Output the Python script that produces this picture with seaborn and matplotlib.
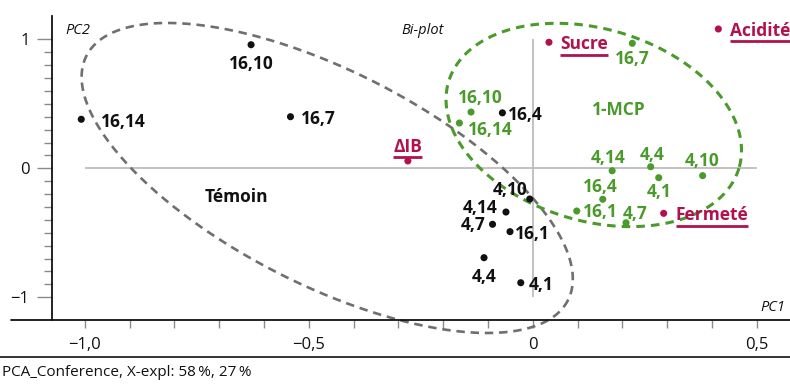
import numpy as np
import pandas as pd
import matplotlib
matplotlib.use("Agg")
import matplotlib.pyplot as plt
import seaborn as sns
from matplotlib.lines import Line2D

# ---------------- data ----------------
temoin_labels = ["16,10", "16,14", "16,7", "16,4", "4,10", "4,14", "4,7", "16,1", "4,4", "4,1"]
temoin_pc1 = [-0.629, -1.008, -0.541, -0.068, -0.007, -0.060, -0.090, -0.051, -0.109, -0.027]
temoin_pc2 = [0.958, 0.380, 0.400, 0.430, -0.238, -0.339, -0.434, -0.491, -0.693, -0.887]

mcp_labels = ["16,7", "16,10", "16,14", "4,14", "4,4", "4,1", "4,10", "16,4", "16,1", "4,7"]
mcp_pc1 = [0.222, -0.138, -0.164, 0.177, 0.263, 0.281, 0.379, 0.156, 0.098, 0.208]
mcp_pc2 = [0.969, 0.436, 0.351, -0.019, 0.012, -0.073, -0.057, -0.240, -0.331, -0.422]

var_labels = ["Sucre", "Acidité", "\u0394IB", "Fermeté"]
var_pc1 = [0.036, 0.414, -0.279, 0.292]
var_pc2 = [0.977, 1.080, 0.057, -0.349]

group_names = ["Témoin", "1-MCP", "Variables"]
x_major = [-1.0, -0.5, 0.0, 0.5]
x_major_labels = ["\u22121,0", "\u22120,5", "0", "0,5"]
y_major = [-1, 0, 1]
y_major_labels = ["\u22121", "0", "1"]
caption = "PCA_Conference, X-expl: 58\u2009%, 27\u2009%"

# ---------------- style ----------------
BLACK = "#111111"
GREEN = "#4a9a2c"
CRIMSON = "#b0124f"
GREY_ELL = "#6f6f6f"
GREY_ZERO = "#b8b8b8"
TICK_GREY = "#8a8a8a"

sns.set_theme(style="white")
plt.rcParams["font.family"] = ["Open Sans", "DejaVu Sans"]

DPI = 100
fig = plt.figure(figsize=(7.9, 3.85), dpi=DPI)
ax = fig.add_axes([51.7 / 790, (385 - 320) / 385, 1 - 51.7 / 790, (320 - 15.7) / 385])

df = pd.concat([
    pd.DataFrame({"label": temoin_labels, "PC1": temoin_pc1, "PC2": temoin_pc2, "group": group_names[0]}),
    pd.DataFrame({"label": mcp_labels, "PC1": mcp_pc1, "PC2": mcp_pc2, "group": group_names[1]}),
    pd.DataFrame({"label": var_labels, "PC1": var_pc1, "PC2": var_pc2, "group": group_names[2]}),
], ignore_index=True)
palette = {group_names[0]: BLACK, group_names[1]: GREEN, group_names[2]: CRIMSON}

sns.scatterplot(data=df, x="PC1", y="PC2", hue="group", palette=palette, s=26,
                edgecolor="none", legend=False, ax=ax, zorder=4)

ax.set_xlim(-1.074, 0.574)
ax.set_ylim(-1.176, 1.183)

# zero reference lines
ax.hlines(0, -1.0, 0.5, color=GREY_ZERO, lw=1.2, zorder=1)
ax.vlines(0, -1.0, 1.0, color=GREY_ZERO, lw=1.2, zorder=1)

# ticks
ax.set_xticks(x_major)
ax.set_xticklabels(x_major_labels)
ax.set_xticks(np.round(np.arange(-1.0, 0.51, 0.1), 2), minor=True)
ax.set_yticks(y_major)
ax.set_yticklabels(y_major_labels)
ax.set_yticks(np.round(np.arange(-1.0, 1.01, 0.1), 2), minor=True)
ax.tick_params(axis="x", which="both", direction="out", length=6, width=1.0, color=TICK_GREY,
               labelsize=12, pad=6, labelcolor=BLACK, bottom=True)
ax.tick_params(axis="y", which="major", direction="out", length=11, width=1.0, color=TICK_GREY,
               labelsize=12, pad=5, labelcolor=BLACK, left=True)
ax.tick_params(axis="y", which="minor", direction="out", length=6, width=1.0, color=TICK_GREY, left=True)
ax.set_xlabel("")
ax.set_ylabel("")
for s in ["top", "right", "bottom"]:
    ax.spines[s].set_visible(False)
ax.spines["left"].set_color(BLACK)
ax.spines["left"].set_linewidth(1.3)
ax.grid(False)
ax.set_facecolor("none")

# x axis line extending left beyond y axis, and bottom rule
fig.add_artist(Line2D([11 / 790, 1.0], [(385 - 320) / 385] * 2, color=BLACK, lw=1.3,
                      transform=fig.transFigure))
fig.add_artist(Line2D([0, 1.0], [(385 - 357) / 385] * 2, color=BLACK, lw=1.2,
                      transform=fig.transFigure))
fig.text(2 / 790, (385 - 372) / 385, caption, fontsize=11, color=BLACK, va="center", ha="left")

# ellipses (pixel-space shape, drawn in data units)
bb = ax.get_position()
px_x = bb.width * 790 / (ax.get_xlim()[1] - ax.get_xlim()[0])
px_y = bb.height * 385 / (ax.get_ylim()[1] - ax.get_ylim()[0])


def ellipse(cx, cy, a, b, theta_deg, **kw):
    t = np.linspace(0, 2 * np.pi, 400)
    th = np.deg2rad(theta_deg)
    dx = a * np.cos(t) * np.cos(th) - b * np.sin(t) * np.sin(th)
    dy = a * np.cos(t) * np.sin(th) + b * np.sin(t) * np.cos(th)
    ax.plot(cx + dx / px_x, cy - dy / px_y, clip_on=False, **kw)


ellipse(-0.459, -0.075, 270, 107, 26.9, color=GREY_ELL, lw=1.9, ls=(0, (3.2, 2.2)), zorder=2)
ellipse(0.136, 0.336, 151.5, 96.0, 16.6, color=GREEN, lw=2.2, ls=(0, (2.8, 2.0)), zorder=2)

# point labels: (ha, dx px, dy px)
temoin_offsets = [("center", 0, -17), ("left", 20, -1), ("left", 10, 0), ("left", 6, 0),
                  ("right", -2, 11), ("right", -8, 6), ("right", -7, 1), ("left", 5, 0),
                  ("center", 0, -17), ("left", 8, 0)]
mcp_offsets = [("center", 0, -14), ("center", 9, 16), ("left", 9, -5), ("center", -4, 15),
               ("center", 1, 14), ("center", 0, -12), ("center", -1, 17), ("center", -2, 14),
               ("left", 6, 1), ("center", 9, 11)]
var_offsets = [("left", 11, 0), ("left", 12, 0), ("center", 0, 16), ("left", 12, 0)]

lab_kw = dict(fontsize=12.5, fontweight="bold", textcoords="offset pixels", va="center_baseline", zorder=5)
for lab, x, y, (ha, dx, dy) in zip(temoin_labels, temoin_pc1, temoin_pc2, temoin_offsets):
    ax.annotate(lab, (x, y), xytext=(dx, dy), ha=ha, color=BLACK, **lab_kw)
for lab, x, y, (ha, dx, dy) in zip(mcp_labels, mcp_pc1, mcp_pc2, mcp_offsets):
    ax.annotate(lab, (x, y), xytext=(dx, dy), ha=ha, color=GREEN, **lab_kw)
var_texts = []
for lab, x, y, (ha, dx, dy) in zip(var_labels, var_pc1, var_pc2, var_offsets):
    var_texts.append(ax.annotate(lab, (x, y), xytext=(dx, dy), ha=ha, color=CRIMSON, **lab_kw))

# group names and axis captions
ax.text(-0.662, -0.222, "Témoin", fontsize=12.5, fontweight="bold", color=BLACK, ha="center", va="center")
ax.text(0.192, 0.45, "1-MCP", fontsize=12.5, fontweight="bold", color=GREEN, ha="center", va="center")
ax.text(-1.043, 1.072, "PC2", fontsize=10.5, fontstyle="italic", color=BLACK, ha="left", va="center")
ax.text(-0.293, 1.072, "Bi-plot", fontsize=10.5, fontstyle="italic", color=BLACK, ha="left", va="center")
ax.text(0.5625, -1.078, "PC1", fontsize=10.5, fontstyle="italic", color=BLACK, ha="right", va="center")

# underline variable labels
fig.canvas.draw()
r = fig.canvas.get_renderer()
inv = fig.transFigure.inverted()
for t in var_texts:
    e = t.get_window_extent(r)
    yb = e.y0 - 1.5
    p0 = inv.transform((e.x0, yb))
    p1 = inv.transform((e.x1, yb))
    fig.add_artist(Line2D([p0[0], p1[0]], [p0[1], p1[1]], color=CRIMSON, lw=2.0,
                          transform=fig.transFigure, solid_capstyle="butt"))

fig.savefig("out.png", dpi=DPI)
